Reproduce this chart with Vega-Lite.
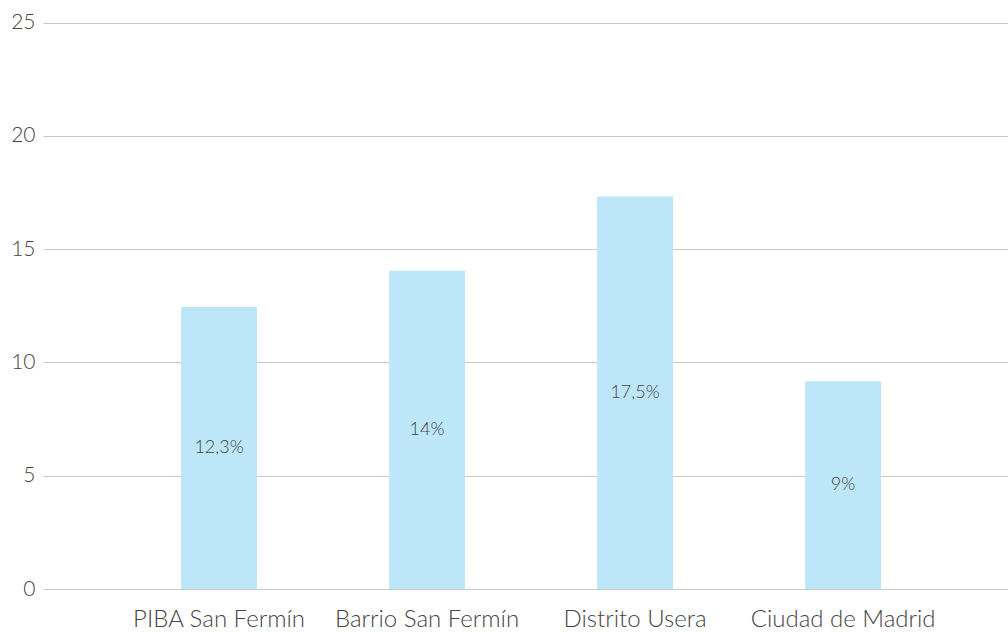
{
  "$schema": "https://vega.github.io/schema/vega-lite/v6.json",
  "autosize": {"type": "fit", "contains": "padding"},
  "width": 1008,
  "height": 632,
  "padding": {"left": 0, "top": 0, "right": 0, "bottom": 0},
  "background": "white",
  "config": {
    "view": {"stroke": null},
    "font": "Lato",
    "axis": {"labelFont": "Lato", "labelFontWeight": 300, "labelColor": "#444444"}
  },
  "data": {
    "values": [
      {"zona": "PIBA San Fermín", "valor": 12.45, "etiqueta": "12,3%"},
      {"zona": "Barrio San Fermín", "valor": 14.05, "etiqueta": "14%"},
      {"zona": "Distrito Usera", "valor": 17.33, "etiqueta": "17,5%"},
      {"zona": "Ciudad de Madrid", "valor": 9.17, "etiqueta": "9%"}
    ]
  },
  "transform": [{"calculate": "datum.valor / 2", "as": "medio"}],
  "encoding": {
    "x": {
      "field": "zona",
      "type": "nominal",
      "sort": null,
      "scale": {"paddingInner": 0.635, "paddingOuter": 0.637, "align": 0.521},
      "axis": {
        "title": null,
        "labelAngle": 0,
        "labelFontSize": 24,
        "labelLimit": 400,
        "labelOverlap": false,
        "ticks": false,
        "domain": false,
        "labelPadding": 18,
        "minExtent": 43,
        "maxExtent": 43
      }
    }
  },
  "layer": [
    {
      "mark": {"type": "bar", "color": "#bde6f9"},
      "encoding": {
        "y": {
          "field": "valor",
          "type": "quantitative",
          "scale": {"domain": [0, 25]},
          "axis": {
            "title": null,
            "values": [0, 5, 10, 15, 20, 25],
            "labelFontSize": 21,
            "ticks": false,
            "domain": false,
            "labelPadding": 8,
            "gridColor": "#c8c8c8",
            "gridWidth": 1,
            "minExtent": 43,
            "maxExtent": 43
          }
        }
      }
    },
    {
      "mark": {"type": "text", "fontSize": 18, "font": "Lato", "fontWeight": 300, "color": "#444444", "baseline": "middle"},
      "encoding": {
        "y": {"field": "medio", "type": "quantitative"},
        "text": {"field": "etiqueta"}
      }
    }
  ]
}
